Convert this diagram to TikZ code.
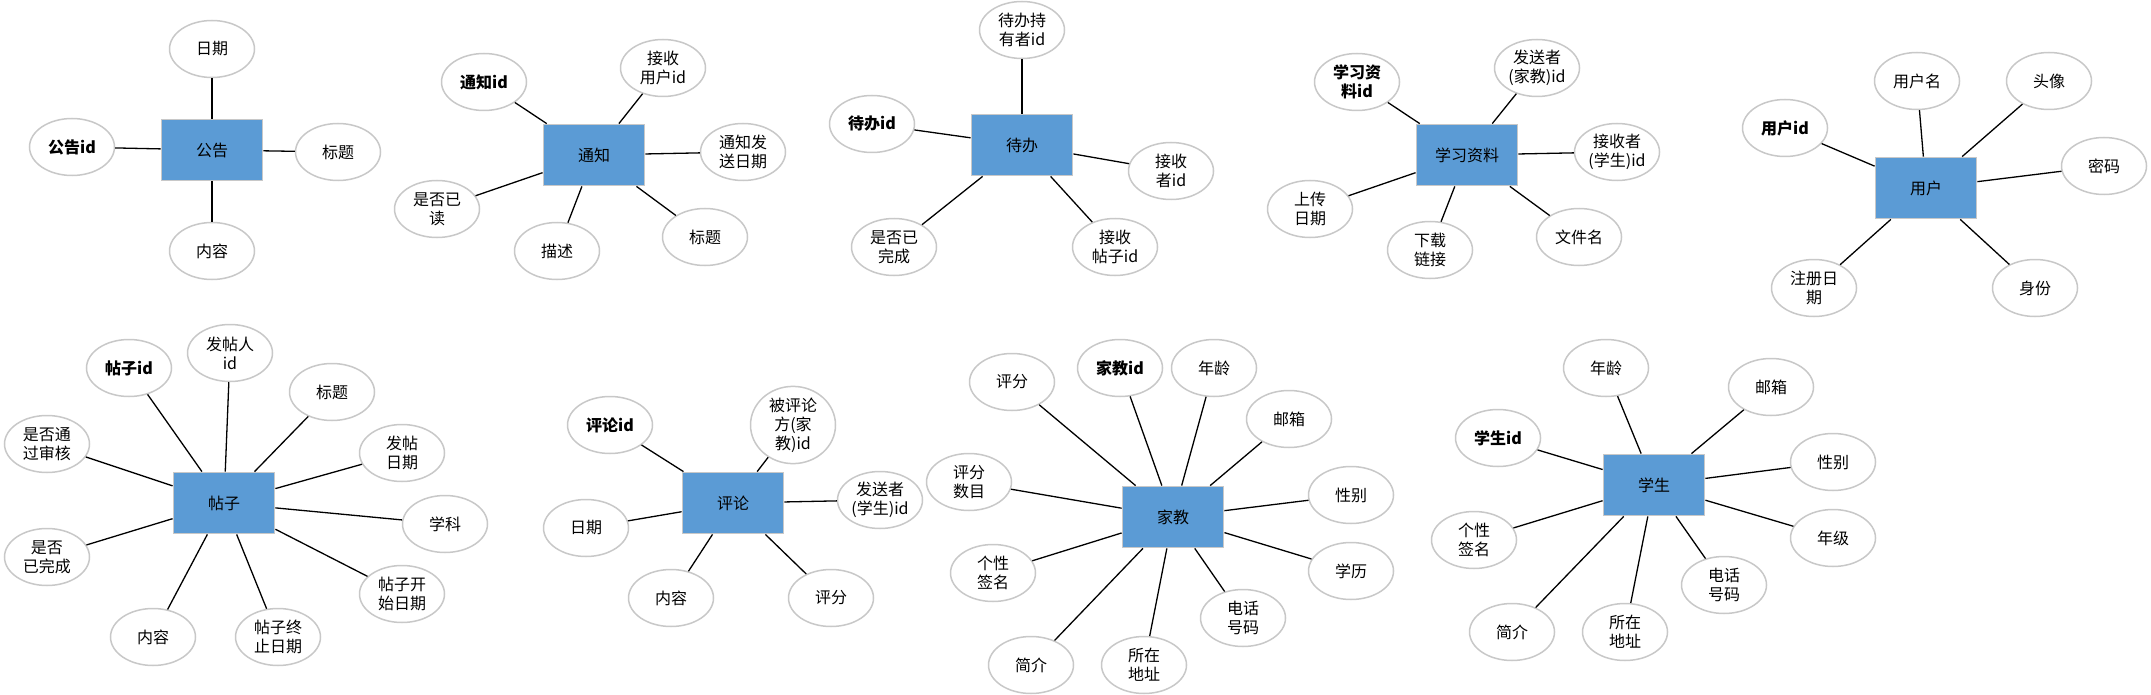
\documentclass[tikz,border=0pt]{standalone}
\usepackage{fontspec}
\setmainfont{Noto Sans CJK SC}
\usetikzlibrary{shapes.geometric}
\definecolor{boxblue}{HTML}{5B9BD5}
\definecolor{boxborder}{HTML}{C8C8C8}
\definecolor{ellborder}{HTML}{C8C8C8}
\tikzset{
  ent/.style={draw=boxborder, line width=1.8pt, fill=boxblue, minimum width=101pt, minimum height=61pt, inner sep=0pt, font=\fontsize{16}{19}\selectfont},
  attr/.style={ellipse, draw=ellborder, line width=1.5pt, fill=white, minimum width=85pt, minimum height=57pt, inner sep=0pt, align=center, font=\fontsize{16}{19}\selectfont},
  keyattr/.style={attr, font=\fontsize{16}{19}\selectfont\bfseries},
  link/.style={line width=1.3pt, black},
}
\begin{document}
\begin{tikzpicture}[x=1pt,y=-1pt]
\useasboundingbox[fill=white] (0,0) rectangle (2151,695);
% ---------- 公告 ----------
\node[ent] (g1) at (212,150) {公告};
\node[attr] (g1a) at (212,49) {日期};
\node[keyattr] (g1b) at (72,147) {公告id};
\node[attr] (g1c) at (338,152) {标题};
\node[attr] (g1d) at (212,251) {内容};
\foreach \n in {a,b,c,d} \draw[link] (g1) -- (g1\n);
% ---------- 通知 ----------
\node[ent] (g2) at (594,155) {通知};
\node[keyattr] (g2a) at (484,82) {通知id};
\node[attr] (g2b) at (663,68) {接收\\用户id};
\node[attr] (g2c) at (743,152) {通知发\\送日期};
\node[attr] (g2d) at (437,209) {是否已\\读};
\node[attr] (g2e) at (557,251) {描述};
\node[attr] (g2f) at (705,237) {标题};
\foreach \n in {a,b,c,d,e,f} \draw[link] (g2) -- (g2\n);
% ---------- 待办 ----------
\node[ent] (g3) at (1022,145) {待办};
\node[attr] (g3a) at (1022,30) {待办持\\有者id};
\node[keyattr] (g3b) at (872,124) {待办id};
\node[attr] (g3c) at (1171,171) {接收\\者id};
\node[attr] (g3d) at (894,247) {是否已\\完成};
\node[attr] (g3e) at (1115,247) {接收\\帖子id};
\foreach \n in {a,b,c,d,e} \draw[link] (g3) -- (g3\n);
% ---------- 学习资料 ----------
\node[ent] (g4) at (1467,155) {学习资料};
\node[keyattr] (g4a) at (1357,82) {学习资\\料id};
\node[attr] (g4b) at (1537,68) {发送者\\(家教)id};
\node[attr] (g4c) at (1617,152) {接收者\\(学生)id};
\node[attr] (g4d) at (1310,209) {上传\\日期};
\node[attr] (g4e) at (1430,250) {下载\\链接};
\node[attr] (g4f) at (1579,237) {文件名};
\foreach \n in {a,b,c,d,e,f} \draw[link] (g4) -- (g4\n);
% ---------- 用户 ----------
\node[ent] (g5) at (1926,188) {用户};
\node[keyattr] (g5a) at (1785,128) {用户id};
\node[attr] (g5b) at (1917,81) {用户名};
\node[attr] (g5c) at (2049,81) {头像};
\node[attr] (g5d) at (2104,166) {密码};
\node[attr] (g5e) at (1814,288) {注册日\\期};
\node[attr] (g5f) at (2035,288) {身份};
\foreach \n in {a,b,c,d,e,f} \draw[link] (g5) -- (g5\n);
% ---------- 帖子 ----------
\node[ent] (g6) at (224,503) {帖子};
\node[keyattr] (g6a) at (129,368) {帖子id};
\node[attr] (g6b) at (230,353) {发帖人\\id};
\node[attr] (g6c) at (332,392) {标题};
\node[attr] (g6d) at (402,453) {发帖\\日期};
\node[attr] (g6e) at (445,524) {学科};
\node[attr] (g6f) at (402,594) {帖子开\\始日期};
\node[attr] (g6g) at (278,637) {帖子终\\止日期};
\node[attr] (g6h) at (153,637) {内容};
\node[attr] (g6i) at (47,557) {是否\\已完成};
\node[attr] (g6j) at (47,444) {是否通\\过审核};
\foreach \n in {a,b,c,d,e,f,g,h,i,j} \draw[link] (g6) -- (g6\n);
% ---------- 评论 ----------
\node[ent] (g7) at (733,503) {评论};
\node[keyattr] (g7a) at (610,425) {评论id};
\node[attr] (g7b) at (793,425) {被评论\\方(家\\教)id};
\node[attr] (g7c) at (880,500) {发送者\\(学生)id};
\node[attr] (g7d) at (586,528) {日期};
\node[attr] (g7e) at (671,598) {内容};
\node[attr] (g7f) at (831,598) {评分};
\foreach \n in {a,b,c,d,e,f} \draw[link] (g7) -- (g7\n);
% ---------- 家教 ----------
\node[ent] (g8) at (1173,517) {家教};
\node[attr] (g8a) at (1012,382) {评分};
\node[keyattr] (g8b) at (1120,368) {家教id};
\node[attr] (g8c) at (1214,368) {年龄};
\node[attr] (g8d) at (1289,419) {邮箱};
\node[attr] (g8e) at (1351,495) {性别};
\node[attr] (g8f) at (1351,571) {学历};
\node[attr] (g8g) at (1243,618) {电话\\号码};
\node[attr] (g8h) at (1144,665) {所在\\地址};
\node[attr] (g8i) at (1031,665) {简介};
\node[attr] (g8j) at (993,573) {个性\\签名};
\node[attr] (g8k) at (969,482) {评分\\数目};
\foreach \n in {a,b,c,d,e,f,g,h,i,j,k} \draw[link] (g8) -- (g8\n);
% ---------- 学生 ----------
\node[ent] (g9) at (1654,485) {学生};
\node[attr] (g9a) at (1606,368) {年龄};
\node[attr] (g9b) at (1771,387) {邮箱};
\node[keyattr] (g9c) at (1498,438) {学生id};
\node[attr] (g9d) at (1833,462) {性别};
\node[attr] (g9e) at (1833,538) {年级};
\node[attr] (g9f) at (1474,540) {个性\\签名};
\node[attr] (g9g) at (1724,585) {电话\\号码};
\node[attr] (g9h) at (1625,632) {所在\\地址};
\node[attr] (g9i) at (1512,632) {简介};
\foreach \n in {a,b,c,d,e,f,g,h,i} \draw[link] (g9) -- (g9\n);
\end{tikzpicture}
\end{document}
